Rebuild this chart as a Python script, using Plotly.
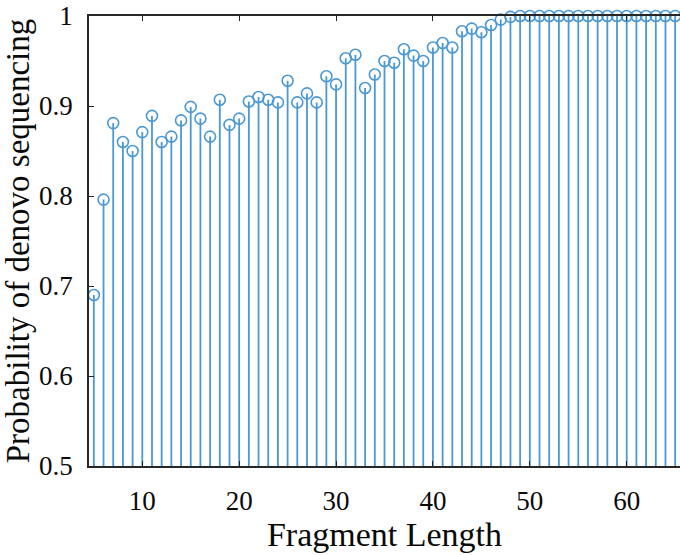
import plotly.graph_objects as go

# Fragment lengths and the probability that each can be sequenced de novo
fragment_length = list(range(5, 66))
probability = [
    0.690, 0.796, 0.881, 0.860, 0.850, 0.871, 0.889, 0.860, 0.866, 0.884,
    0.899, 0.886, 0.866, 0.907, 0.879, 0.886, 0.905, 0.910, 0.907, 0.904,
    0.928, 0.904, 0.914, 0.904, 0.933, 0.924, 0.953, 0.957, 0.920, 0.935,
    0.950, 0.948, 0.963, 0.956, 0.950, 0.965, 0.970, 0.965, 0.983, 0.986,
    0.982, 0.990, 0.996, 0.999,
] + [1.0] * 17

y_ticks = [0.5, 0.6, 0.7, 0.8, 0.9, 1.0]
y_tick_text = ["0.5", "0.6", "0.7", "0.8", "0.9", "1"]
x_ticks = [10, 20, 30, 40, 50, 60]
x_tick_text = ["10", "20", "30", "40", "50", "60"]

STEM_COLOR = "#4A98D4"
AXIS_COLOR = "#262626"
TEXT_COLOR = "#0a0a0a"
FONT = "Liberation Serif, Times New Roman, serif"

# Stems run from the zero baseline up to each value (lower part is clipped)
stem_x, stem_y = [], []
for xv, yv in zip(fragment_length, probability):
    stem_x += [xv, xv, None]
    stem_y += [0.0, yv, None]

fig = go.Figure()
fig.add_trace(go.Scatter(
    x=stem_x, y=stem_y, mode="lines",
    line=dict(color=STEM_COLOR, width=1.8),
    hoverinfo="skip", showlegend=False,
))
fig.add_trace(go.Scatter(
    x=fragment_length, y=probability, mode="markers",
    marker=dict(symbol="circle-open", size=11, color=STEM_COLOR,
                line=dict(color=STEM_COLOR, width=1.6)),
    cliponaxis=False, showlegend=False,
))

tick_font = dict(family=FONT, size=27, color=TEXT_COLOR)

fig.update_layout(
    width=680, height=555,
    margin=dict(l=89, r=0, t=16, b=89),
    paper_bgcolor="white", plot_bgcolor="white",
    font=dict(family=FONT, size=27, color=TEXT_COLOR),
    xaxis=dict(
        range=[4.5, 65.5], tickmode="array",
        tickvals=x_ticks, ticktext=x_tick_text,
        ticks="inside", ticklen=5, tickwidth=1, tickcolor=AXIS_COLOR,
        showline=True, linecolor=AXIS_COLOR, linewidth=1.5, mirror="ticks",
        showgrid=False, zeroline=False,
        tickfont=tick_font, ticklabelstandoff=10,
        title=dict(text="Fragment Length", standoff=4,
                   font=dict(family=FONT, size=34, color=TEXT_COLOR)),
    ),
    yaxis=dict(
        range=[0.5, 1.0], tickmode="array",
        tickvals=y_ticks, ticktext=y_tick_text,
        ticks="inside", ticklen=5, tickwidth=1, tickcolor=AXIS_COLOR,
        showline=True, linecolor=AXIS_COLOR, linewidth=1.5,
        showgrid=False, zeroline=False,
        tickfont=tick_font, ticklabelstandoff=9,
        title=dict(text="Probability of denovo sequencing", standoff=2,
                   font=dict(family=FONT, size=33, color=TEXT_COLOR)),
    ),
)

fig.write_html("out.html")
